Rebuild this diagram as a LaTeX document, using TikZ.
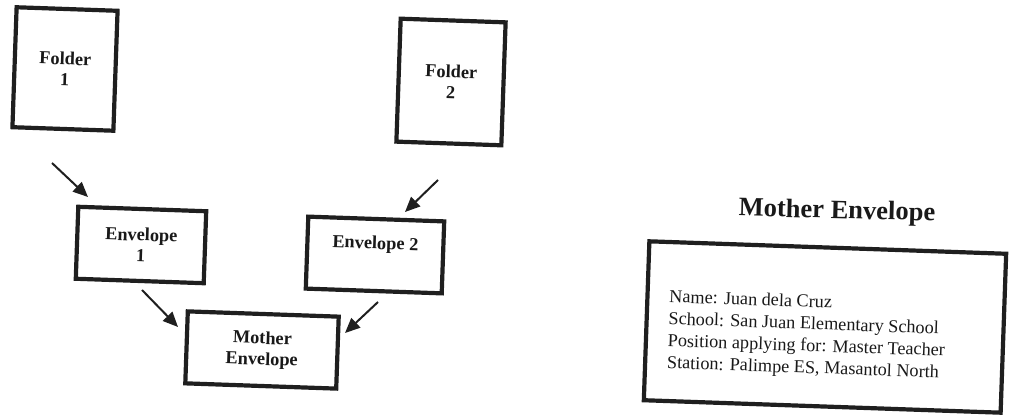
\documentclass[tikz,border=0pt]{standalone}
\usepackage{fontspec}
\setmainfont{Liberation Serif}
\usetikzlibrary{arrows.meta}
\begin{document}
\begin{tikzpicture}[x=1pt,y=1pt,
  box/.style={draw=black!88, line width=4.2pt, rotate=-2, inner sep=0pt, align=center,
    text=black!90, font=\fontsize{18.3}{21}\selectfont\bfseries},
  arr/.style={draw=black!88, line width=2pt, -{Triangle[length=15pt,width=13pt]}},
  info/.style={rotate=-2, inner sep=0pt, align=left, anchor=west, text=black!90,
    font=\fontsize{18.2}{22}\selectfont}]
\useasboundingbox (0,0) rectangle (1015,-419);
% boxes
\node[box, minimum width=101pt, minimum height=120pt] (folder1) at (65,-69) {Folder\\1};
\node[box, minimum width=105pt, minimum height=123pt] (folder2) at (451,-82) {Folder\\2};
\node[box, minimum width=128pt, minimum height=72pt] (env1) at (141,-245) {Envelope\\1};
\node[box, minimum width=136pt, minimum height=72pt, text height=12pt, text depth=24pt] (env2) at (375,-255) {Envelope 2};
\node[box, minimum width=151pt, minimum height=72pt] (mother) at (262,-350) {Mother\\Envelope};
% arrows
\coordinate (a1s) at (52,-163); \coordinate (a1e) at (88,-197);
\coordinate (a2s) at (438,-180); \coordinate (a2e) at (405,-212);
\coordinate (a3s) at (142,-290); \coordinate (a3e) at (178,-327);
\coordinate (a4s) at (378,-302); \coordinate (a4e) at (345,-333);
\draw[arr] (a1s) -- (a1e);
\draw[arr] (a2s) -- (a2e);
\draw[arr] (a3s) -- (a3e);
\draw[arr] (a4s) -- (a4e);
% right side
\node[rotate=-1.5, inner sep=0pt, text=black!90, font=\fontsize{26.5}{30}\selectfont\bfseries] (title) at (837,-212) {Mother Envelope};
\node[draw=black!88, line width=4.2pt, rotate=-2, inner sep=0pt, minimum width=357pt, minimum height=159pt] (mebox) at (825,-327) {};
\node[info] (meinfo) at (668,-331) {Name: Juan dela Cruz\\School: San Juan Elementary School\\Position applying for: Master Teacher\\Station: Palimpe ES, Masantol North};
\end{tikzpicture}
\end{document}
